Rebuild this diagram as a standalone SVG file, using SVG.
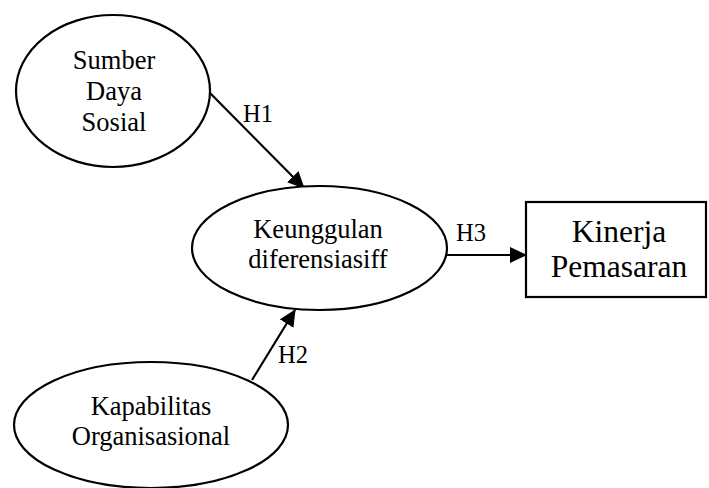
<svg xmlns="http://www.w3.org/2000/svg" width="709" height="488" viewBox="0 0 709 488">
  <style>
    .shape { fill: #ffffff; stroke: #000000; stroke-width: 2.2; }
    .lbl { font-family: "Liberation Serif", "Times New Roman", serif; font-size: 26.5px; fill: #000000; text-anchor: middle; }
    .big { font-size: 31.5px; }
    .hyp { font-family: "Liberation Serif", "Times New Roman", serif; font-size: 24.5px; fill: #000000; }
    .edge { stroke: #000000; stroke-width: 2.2; fill: none; marker-end: url(#head); }
  </style>
  <defs>
    <marker id="head" viewBox="0 0 17 16" refX="16" refY="8" markerWidth="17" markerHeight="16" orient="auto" markerUnits="userSpaceOnUse">
      <path d="M0,0 L17,8 L0,16 z" fill="#000000"/>
    </marker>
  </defs>
  <rect width="709" height="488" fill="#ffffff"/>

  <g id="connectors">
    <line class="edge" x1="210" y1="93" x2="304" y2="188"/>
    <line class="edge" x1="252" y1="380" x2="295" y2="310"/>
    <line class="edge" x1="447" y1="255" x2="526" y2="255"/>
    <text class="hyp" x="243" y="122">H1</text>
    <text class="hyp" x="278" y="363">H2</text>
    <text class="hyp" x="456" y="241">H3</text>
  </g>

  <g id="sumber-daya-sosial">
    <ellipse class="shape" cx="113" cy="91" rx="97" ry="76"/>
    <text class="lbl" x="114" y="69">Sumber</text>
    <text class="lbl" x="114" y="100">Daya</text>
    <text class="lbl" x="114" y="131">Sosial</text>
  </g>

  <g id="keunggulan-diferensiasi">
    <ellipse class="shape" cx="319.5" cy="248" rx="127.5" ry="62"/>
    <text class="lbl" x="318" y="238">Keunggulan</text>
    <text class="lbl" x="318" y="268">diferensiasiff</text>
  </g>

  <g id="kapabilitas-organisasional">
    <ellipse class="shape" cx="151" cy="425" rx="137" ry="63"/>
    <text class="lbl" x="151" y="415">Kapabilitas</text>
    <text class="lbl" x="151" y="445">Organisasional</text>
  </g>

  <g id="kinerja-pemasaran">
    <rect class="shape" x="526" y="202" width="180" height="95"/>
    <text class="lbl big" x="619" y="242">Kinerja</text>
    <text class="lbl big" x="619" y="277">Pemasaran</text>
  </g>
</svg>
